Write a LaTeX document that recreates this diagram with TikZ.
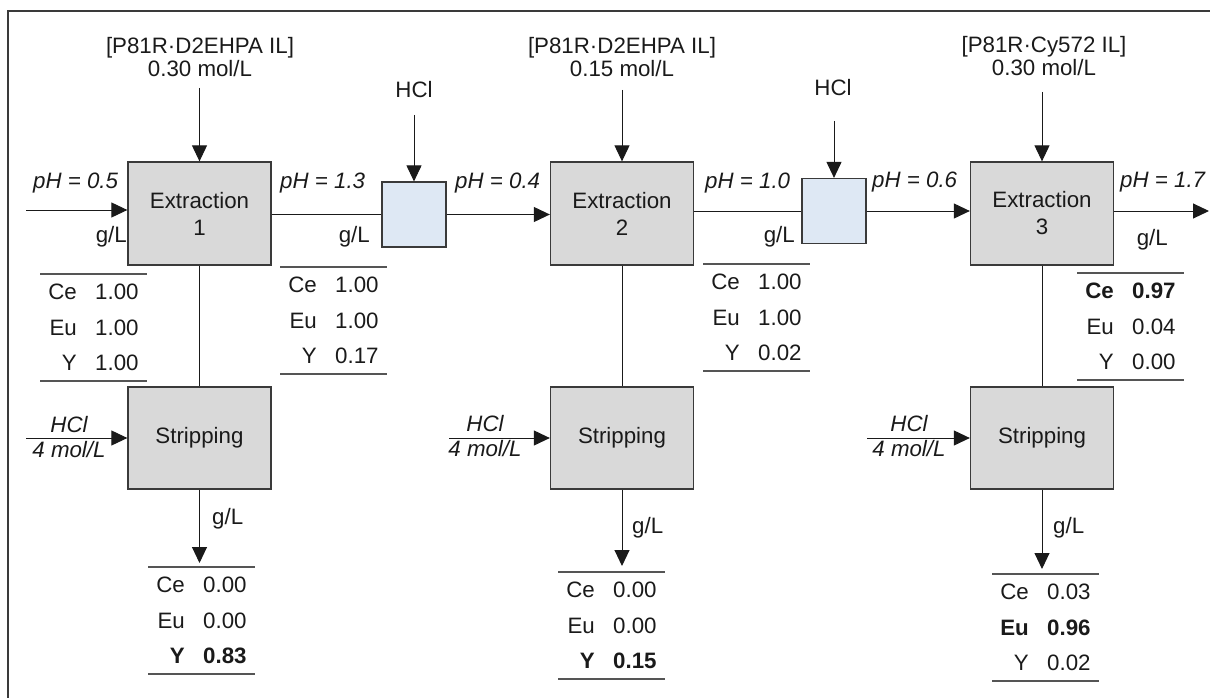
\documentclass[tikz,border=0pt]{standalone}
\usepackage{fontspec}
\setmainfont{Liberation Sans}
\usetikzlibrary{arrows.meta,calc}
\definecolor{boxfill}{HTML}{D9D9D9}
\definecolor{mixfill}{HTML}{DEE8F4}
\definecolor{boxdraw}{HTML}{3A3A3A}
\definecolor{ink}{HTML}{1A1A1A}
\definecolor{tabgray}{HTML}{555555}
\tikzset{
  unitbox/.style={draw=boxdraw,line width=1.3pt,fill=boxfill,minimum width=143pt,minimum height=103pt,inner sep=0pt,align=center,text=ink},
  mixbox/.style={draw=boxdraw,line width=1.2pt,fill=mixfill,minimum width=64pt,minimum height=65pt,inner sep=0pt},
  arr/.style={draw=ink,line width=1pt,-{Triangle[length=16pt,width=15pt]}},
  conn/.style={draw=ink,line width=1pt},
  tabline/.style={draw=tabgray,line width=1.3pt},
  lbl/.style={inner sep=0pt,text=ink},
  el/.style={inner sep=0pt,anchor=east,text=ink},
  val/.style={inner sep=0pt,anchor=west,text=ink},
}
\newcommand\ctab[9]{%
  \draw[tabline] (#2,#3) -- ++(107,0);
  \draw[tabline] (#2,#3+107) -- ++(107,0);
  \node[el] (#1ea) at (#2+37,#3+18) {#4};
  \node[val] (#1va) at (#2+55,#3+18) {#5};
  \node[el] (#1eb) at (#2+37,#3+53.5) {#6};
  \node[val] (#1vb) at (#2+55,#3+53.5) {#7};
  \node[el] (#1ec) at (#2+37,#3+88.5) {#8};
  \node[val] (#1vc) at (#2+55,#3+88.5) {#9};
}
\begin{document}
\begin{tikzpicture}[x=1pt,y=-1pt,font=\fontsize{22.3}{27}\selectfont]
\useasboundingbox (0,0) rectangle (1210,698);
% frame
\draw[draw=boxdraw,line width=1.3pt] (8,710) -- (8,11) -- (1220,11);

% extraction units
\node[unitbox] (e1) at (199.5,213.5) {Extraction\\1};
\node[unitbox] (e2) at (622,213.5) {Extraction\\2};
\node[unitbox] (e3) at (1042,213.5) {Extraction\\3};
% mixers
\node[mixbox] (m1) at (414,214.5) {};
\node[mixbox] (m2) at (834,211) {};
% stripping units
\node[unitbox,minimum height=102pt] (s1) at (199.5,438) {Stripping};
\node[unitbox,minimum height=102pt] (s2) at (622,438) {Stripping};
\node[unitbox,minimum height=102pt] (s3) at (1042,438) {Stripping};

% organic feeds
\node[lbl,anchor=base] (f1a) at (200,54) {[P81R·D2EHPA IL]};
\node[lbl,anchor=base] (f1b) at (200,77) {0.30 mol/L};
\node[lbl,anchor=base] (f2a) at (622,54) {[P81R·D2EHPA IL]};
\node[lbl,anchor=base] (f2b) at (622,77) {0.15 mol/L};
\node[lbl,anchor=base] (f3a) at (1044,53) {[P81R·Cy572 IL]};
\node[lbl,anchor=base] (f3b) at (1044,76) {0.30 mol/L};
\coordinate (t1) at (199.5,88);
\coordinate (t2) at (622,90);
\coordinate (t3) at (1042,92);
\draw[arr] (t1) -- (e1.north);
\draw[arr] (t2) -- (e2.north);
\draw[arr] (t3) -- (e3.north);

% HCl to mixers
\node[lbl] (h1) at (414,90) {HCl};
\node[lbl] (h2) at (833,88) {HCl};
\coordinate (ht1) at (414,115);
\coordinate (ht2) at (834,121);
\draw[arr] (ht1) -- (m1.north);
\draw[arr] (ht2) -- (m2.north);

% aqueous main line
\coordinate (in1) at (26,210);
\draw[arr] (in1) -- (in1 -| e1.west);
\draw[conn] (m1.west -| e1.east) -- (m1.west);
\draw[arr] (m1.east) -- (m1.east -| e2.west);
\draw[conn] (m2.west -| e2.east) -- (m2.west);
\draw[arr] (m2.east) -- (m2.east -| e3.west);
\coordinate (out3) at (1209,211);
\draw[arr] (out3 -| e3.east) -- (out3);

% pH labels
\node[lbl,anchor=base west] (ph1) at (33,188) {\itshape pH = 0.5};
\node[lbl,anchor=base west] (ph2) at (280,188) {\itshape pH = 1.3};
\node[lbl,anchor=base west] (ph3) at (455,188) {\itshape pH = 0.4};
\node[lbl,anchor=base west] (ph4) at (705,188) {\itshape pH = 1.0};
\node[lbl,anchor=base west] (ph5) at (872,187) {\itshape pH = 0.6};
\node[lbl,anchor=base west] (ph6) at (1120,187) {\itshape pH = 1.7};

% g/L labels
\node[lbl,anchor=base east] (g1) at (127,242) {g/L};
\node[lbl,anchor=base east] (g2) at (370,242) {g/L};
\node[lbl,anchor=base east] (g3) at (795,242) {g/L};
\node[lbl,anchor=base east] (g4) at (1168,245) {g/L};

% extraction -> stripping
\draw[conn] (e1.south) -- (s1.north);
\draw[conn] (e2.south) -- (s2.north);
\draw[conn] (e3.south) -- (s3.north);

% HCl to stripping
\coordinate (si1) at (26,438);
\coordinate (si2) at (449,438);
\coordinate (si3) at (867,438);
\draw[arr] (si1) -- (si1 -| s1.west);
\draw[arr] (si2) -- (si2 -| s2.west);
\draw[arr] (si3) -- (si3 -| s3.west);
\node[lbl,anchor=base] (sh1) at (69,432) {\itshape HCl};
\node[lbl,anchor=base] (sm1) at (69,457) {\itshape 4 mol/L};
\node[lbl,anchor=base] (sh2) at (485,431) {\itshape HCl};
\node[lbl,anchor=base] (sm2) at (485,456) {\itshape 4 mol/L};
\node[lbl,anchor=base] (sh3) at (909,431) {\itshape HCl};
\node[lbl,anchor=base] (sm3) at (909,456) {\itshape 4 mol/L};

% stripping outputs
\coordinate (so1) at (199.5,563);
\coordinate (so2) at (622,566);
\coordinate (so3) at (1042,569);
\draw[arr] (s1.south) -- (so1);
\draw[arr] (s2.south) -- (so2);
\draw[arr] (s3.south) -- (so3);
\node[lbl,anchor=base west] (g5) at (212,524) {g/L};
\node[lbl,anchor=base west] (g6) at (632,533) {g/L};
\node[lbl,anchor=base west] (g7) at (1053,533) {g/L};

% concentration tables
\ctab{ta}{40}{274}{Ce}{1.00}{Eu}{1.00}{Y}{1.00}
\ctab{tb}{280}{267}{Ce}{1.00}{Eu}{1.00}{Y}{0.17}
\ctab{tc}{703}{264}{Ce}{1.00}{Eu}{1.00}{Y}{0.02}
\ctab{td}{1077}{273}{\textbf{Ce}}{\textbf{0.97}}{Eu}{0.04}{Y}{0.00}
\ctab{te}{148}{567}{Ce}{0.00}{Eu}{0.00}{\textbf{Y}}{\textbf{0.83}}
\ctab{tf}{558}{572}{Ce}{0.00}{Eu}{0.00}{\textbf{Y}}{\textbf{0.15}}
\ctab{tg}{992}{574}{Ce}{0.03}{\textbf{Eu}}{\textbf{0.96}}{Y}{0.02}
\end{tikzpicture}
\end{document}
